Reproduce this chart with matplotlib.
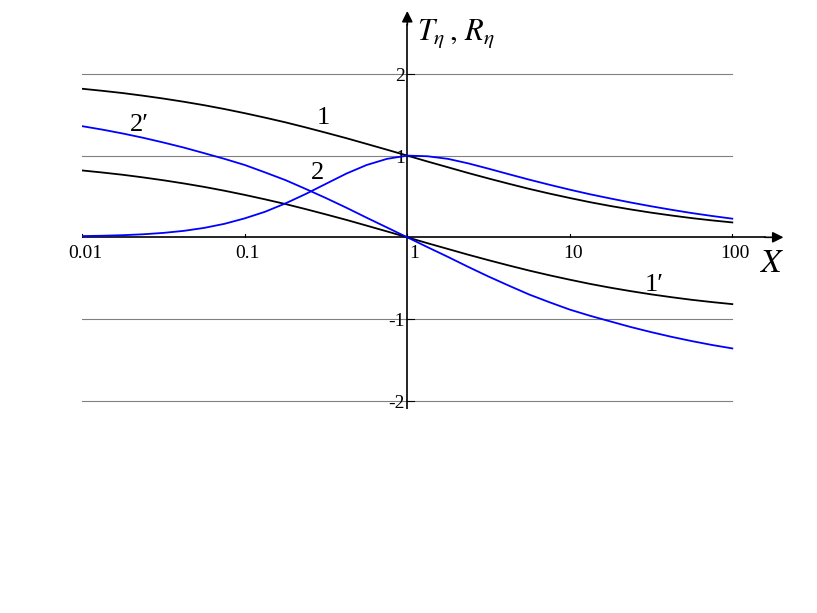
import matplotlib.pyplot as plt

plt.rcParams['mathtext.fontset'] = 'stix'
serif = 'Liberation Serif'

# eighth-decade sample points
X = [0.01, 0.0133, 0.0178, 0.0237, 0.0316, 0.0422, 0.0562, 0.075, 0.1,
     0.133, 0.178, 0.237, 0.316, 0.422, 0.562, 0.75, 1,
     1.33, 1.78, 2.37, 3.16, 4.22, 5.62, 7.5, 10,
     13.3, 17.8, 23.7, 31.6, 42.2, 56.2, 75, 100]
curve_1 = [1.818, 1.793, 1.765, 1.733, 1.698, 1.659, 1.617, 1.570, 1.519,
           1.465, 1.407, 1.345, 1.280, 1.213, 1.143, 1.072, 1.0,
           0.928, 0.857, 0.787, 0.720, 0.655, 0.593, 0.535, 0.481,
           0.430, 0.383, 0.341, 0.302, 0.267, 0.235, 0.207, 0.182]
curve_1p = [0.818, 0.793, 0.765, 0.733, 0.698, 0.659, 0.617, 0.570, 0.519,
            0.465, 0.407, 0.345, 0.280, 0.213, 0.143, 0.072, 0.0,
            -0.072, -0.143, -0.213, -0.280, -0.345, -0.407, -0.465, -0.519,
            -0.570, -0.617, -0.659, -0.698, -0.733, -0.765, -0.793, -0.818]
curve_2p = [1.36, 1.318, 1.27, 1.218, 1.16, 1.098, 1.03, 0.96, 0.885,
            0.795, 0.70, 0.592, 0.48, 0.362, 0.24, 0.12, 0.0,
            -0.12, -0.24, -0.362, -0.48, -0.592, -0.70, -0.795, -0.885,
            -0.96, -1.03, -1.098, -1.16, -1.218, -1.27, -1.318, -1.36]
curve_2 = [0.015, 0.019, 0.026, 0.037, 0.054, 0.079, 0.115, 0.165, 0.232,
           0.312, 0.415, 0.53, 0.655, 0.78, 0.885, 0.96, 1.0,
           0.992, 0.96, 0.905, 0.84, 0.772, 0.706, 0.643, 0.583,
           0.527, 0.475, 0.426, 0.38, 0.337, 0.297, 0.261, 0.228]

grid_y = [-2, -1, 1, 2]
x_ticks = [0.01, 0.1, 1, 10, 100]
x_tick_labels = ['0.01', '0.1', '1', '10', '100']
y_ticks = [-2, -1, 1, 2]
y_tick_labels = ['-2', '-1', '1', '2']

fig = plt.figure(figsize=(8.17, 6.13), dpi=100)
ax = fig.add_axes([0.1007, 0.333, 0.8593, 0.6504])
ax.set_xscale('log')
ax.set_xlim(0.01, 10 ** 2.32)
ax.set_ylim(-2.1, 2.78)
ax.axis('off')

# horizontal grid
for g in grid_y:
    ax.plot([0.01, 100], [g, g], color='#808080', lw=0.8, zorder=1)

# axes with arrows
ax.plot([0.01, 10 ** 2.2], [0, 0], color='black', lw=1.2, zorder=2)
ax.annotate('', xy=(10 ** 2.315, 0), xytext=(10 ** 2.2, 0),
            arrowprops=dict(arrowstyle='-|>', color='black', lw=1.2,
                            mutation_scale=16, shrinkA=0, shrinkB=0))
ax.plot([1, 1], [-2.12, 2.6], color='black', lw=1.2, zorder=2)
ax.annotate('', xy=(1, 2.77), xytext=(1, 2.6),
            arrowprops=dict(arrowstyle='-|>', color='black', lw=1.2,
                            mutation_scale=16, shrinkA=0, shrinkB=0))

# tick marks
for xt in x_ticks:
    ax.plot([xt, xt], [0, 0.04], color='black', lw=0.8, zorder=2)
for yt in y_ticks:
    ax.plot([1, 1.1], [yt, yt], color='black', lw=0.8, zorder=2)

for xt, lab in zip(x_ticks, x_tick_labels):
    if xt == 1:
        ax.text(1.03, -0.09, lab, ha='left', va='top', fontsize=14, family=serif)
    else:
        ax.text(xt * 1.04, -0.09, lab, ha='center', va='top', fontsize=14, family=serif)
for yt, lab in zip(y_ticks, y_tick_labels):
    ax.text(0.965, yt - 0.03, lab, ha='right', va='center', fontsize=14, family=serif)

# curves
ax.plot(X, curve_1, color='black', lw=1.3, zorder=3)
ax.plot(X, curve_1p, color='black', lw=1.3, zorder=3)
ax.plot(X, curve_2p, color='#0000ff', lw=1.3, zorder=3)
ax.plot(X, curve_2, color='#0000ff', lw=1.3, zorder=3)

# curve labels
ax.text(0.303, 1.46, '1', fontsize=19, family=serif, ha='center', va='center')
ax.text(0.0226, 1.38, '2′', fontsize=19, family=serif, ha='center', va='center')
ax.text(0.282, 0.79, '2', fontsize=19, family=serif, ha='center', va='center')
ax.text(33, -0.58, '1′', fontsize=19, family=serif, ha='center', va='center')

# axis titles
ax.text(10 ** 2.245, -0.31, '$X$', fontsize=24, ha='center', va='center')
ax.text(1.14, 2.5, r'$T_\eta\,,\,R_\eta$', fontsize=22, ha='left', va='center')

fig.savefig('out.png', dpi=100)
